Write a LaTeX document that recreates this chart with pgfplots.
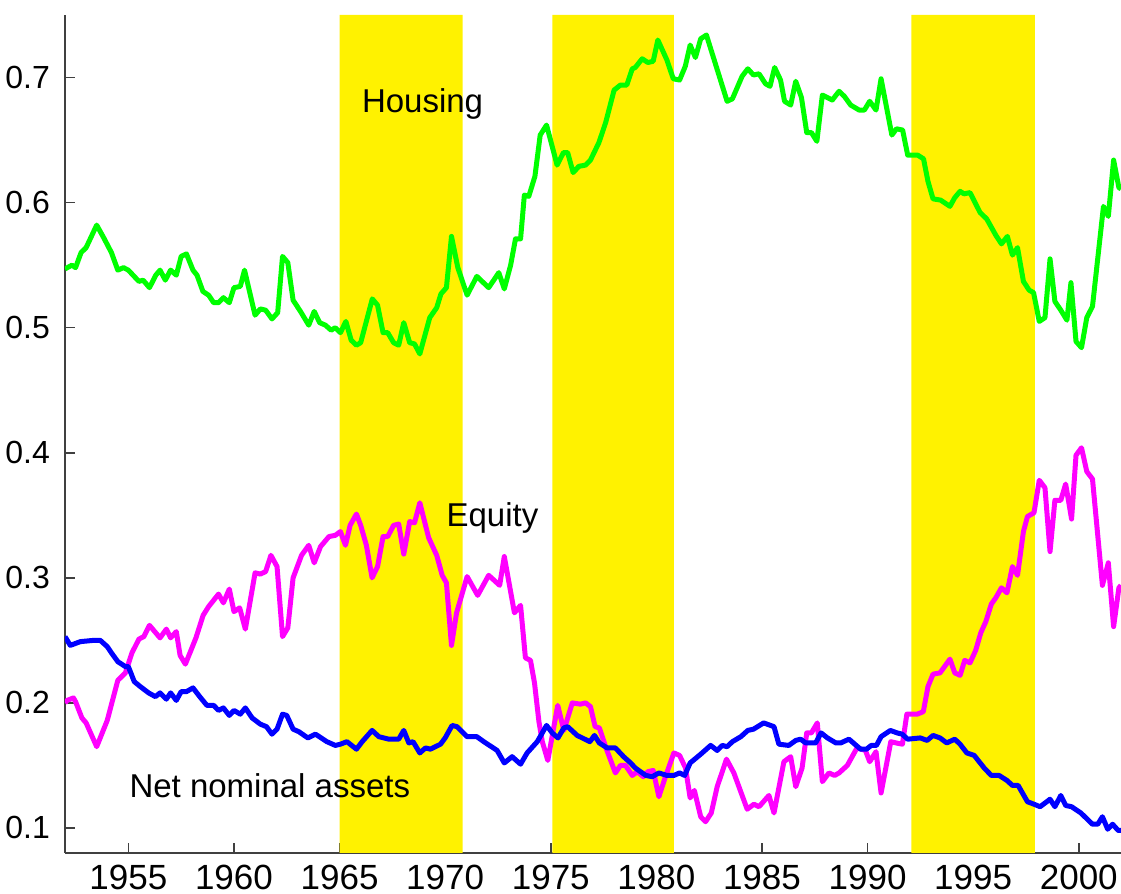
\documentclass[border=0pt]{standalone}
\usepackage{pgfplots}
\pgfplotsset{compat=1.18}
\usepackage{fontspec}
\setmainfont{Liberation Sans}
\begin{document}
\begin{tikzpicture}
\begin{axis}[
  name=ax,
  width=528pt, height=419pt, scale only axis,
  xmin=1952, xmax=2002, ymin=0.08, ymax=0.75,
  axis x line*=bottom, axis y line*=left,
  axis line style={black!75, line width=0.8pt, -},
  tick style={black!75, line width=0.8pt},
  tick align=inside, major tick length=5pt,
  xtick={1955,1960,...,2000},
  ytick={0.1,0.2,...,0.75},
  /pgf/number format/assume math mode=true,
  xticklabel style={/pgf/number format/1000 sep={}, font=\fontsize{17.5}{19}\selectfont, yshift=-2.5pt},
  yticklabel style={/pgf/number format/fixed, /pgf/number format/precision=1, /pgf/number format/fixed zerofill, font=\fontsize{16}{18}\selectfont, xshift=-4pt},
  clip=true,
]
% shaded periods
\addplot[fill=yellow, draw=none, const plot] coordinates {(1965,0.75) (1970.83,0.75)} \closedcycle;
\addplot[fill=yellow, draw=none, const plot] coordinates {(1975.08,0.75) (1980.83,0.75)} \closedcycle;
\addplot[fill=yellow, draw=none, const plot] coordinates {(1992.08,0.75) (1997.92,0.75)} \closedcycle;

% Housing
\addplot[color={rgb,255:red,0;green,255;blue,0}, line width=2.5pt, line join=round] coordinates {
(1952.0,0.547)(1952.33,0.550)(1952.5,0.548)(1952.76,0.560)(1953.0,0.564)(1953.5,0.582)(1953.83,0.572)(1954.2,0.560)(1954.5,0.546)(1954.77,0.548)
(1955.0,0.546)(1955.5,0.537)(1955.7,0.538)(1956.0,0.532)(1956.3,0.542)(1956.5,0.546)(1956.75,0.538)(1957.0,0.546)(1957.27,0.542)(1957.5,0.557)
(1957.75,0.559)(1958.06,0.546)(1958.25,0.542)(1958.53,0.529)(1958.8,0.526)(1959.04,0.520)(1959.27,0.520)(1959.5,0.524)(1959.78,0.520)(1960.0,0.532)
(1960.3,0.533)(1960.5,0.546)(1961.0,0.510)(1961.25,0.515)(1961.5,0.514)(1961.8,0.507)(1962.07,0.512)(1962.3,0.557)(1962.55,0.552)(1962.8,0.522)
(1963.15,0.513)(1963.54,0.502)(1963.8,0.513)(1964.06,0.504)(1964.33,0.502)(1964.6,0.498)(1964.8,0.500)(1965.04,0.496)(1965.3,0.505)(1965.55,0.490)
(1965.8,0.486)(1966.0,0.488)(1966.55,0.523)(1966.8,0.518)(1967.06,0.496)(1967.28,0.496)(1967.56,0.488)(1967.8,0.486)(1968.04,0.504)(1968.32,0.488)
(1968.55,0.487)(1968.8,0.479)(1969.27,0.508)(1969.6,0.516)(1969.8,0.527)(1970.06,0.532)(1970.3,0.573)(1970.6,0.548)(1971.04,0.526)(1971.5,0.541)
(1972.06,0.532)(1972.54,0.544)(1972.8,0.531)(1973.1,0.550)(1973.33,0.571)(1973.57,0.571)(1973.75,0.606)(1973.96,0.605)(1974.25,0.621)(1974.5,0.654)
(1974.8,0.662)(1975.02,0.648)(1975.3,0.630)(1975.6,0.640)(1975.8,0.640)(1976.06,0.624)(1976.33,0.629)(1976.65,0.630)(1976.88,0.634)(1977.28,0.648)
(1977.6,0.664)(1978.0,0.690)(1978.3,0.694)(1978.6,0.694)(1978.86,0.707)(1979.0,0.708)(1979.33,0.715)(1979.6,0.712)(1979.85,0.713)(1980.07,0.730)
(1980.5,0.714)(1980.8,0.699)(1981.1,0.698)(1981.37,0.709)(1981.6,0.726)(1981.85,0.716)(1982.1,0.731)(1982.37,0.734)(1983.35,0.681)(1983.6,0.683)
(1984.06,0.701)(1984.33,0.707)(1984.6,0.702)(1984.86,0.703)(1985.17,0.695)(1985.38,0.693)(1985.6,0.708)(1985.88,0.698)(1986.07,0.681)(1986.36,0.678)
(1986.6,0.697)(1986.87,0.684)(1987.12,0.656)(1987.34,0.656)(1987.6,0.649)(1987.86,0.686)(1988.33,0.682)(1988.65,0.689)(1988.9,0.685)(1989.2,0.678)
(1989.6,0.674)(1989.85,0.674)(1990.1,0.681)(1990.4,0.674)(1990.64,0.699)(1991.15,0.654)(1991.37,0.659)(1991.66,0.658)(1991.9,0.638)(1992.37,0.638)
(1992.65,0.635)(1992.86,0.617)(1993.1,0.603)(1993.46,0.602)(1993.9,0.597)(1994.13,0.604)(1994.38,0.609)(1994.57,0.607)(1994.85,0.608)(1995.33,0.592)
(1995.64,0.587)(1996.07,0.574)(1996.34,0.567)(1996.62,0.573)(1996.86,0.558)(1997.1,0.564)(1997.38,0.537)(1997.65,0.530)(1997.86,0.528)(1998.13,0.505)
(1998.4,0.508)(1998.64,0.555)(1998.87,0.521)(1999.15,0.514)(1999.44,0.506)(1999.63,0.536)(1999.87,0.489)(2000.13,0.484)(2000.38,0.508)(2000.65,0.517)
(2001.17,0.597)(2001.4,0.589)(2001.65,0.634)(2001.9,0.612)(2002.0,0.611)
};

% Equity
\addplot[color={rgb,255:red,255;green,0;blue,255}, line width=2.5pt, line join=round] coordinates {
(1952.0,0.200)(1952.1,0.202)(1952.4,0.204)(1952.5,0.201)(1952.8,0.188)(1953.0,0.184)(1953.5,0.165)(1954.0,0.186)(1954.5,0.218)(1954.86,0.224)
(1955.17,0.240)(1955.5,0.251)(1955.73,0.253)(1956.0,0.262)(1956.5,0.252)(1956.8,0.259)(1957.0,0.252)(1957.27,0.257)(1957.45,0.238)(1957.7,0.231)
(1958.2,0.252)(1958.54,0.270)(1958.8,0.277)(1959.27,0.287)(1959.5,0.280)(1959.78,0.291)(1960.0,0.273)(1960.27,0.276)(1960.54,0.259)(1961.0,0.304)
(1961.25,0.303)(1961.5,0.305)(1961.75,0.318)(1962.04,0.309)(1962.3,0.253)(1962.55,0.260)(1962.8,0.300)(1963.2,0.318)(1963.54,0.326)(1963.8,0.312)
(1964.1,0.325)(1964.5,0.333)(1964.8,0.334)(1965.04,0.337)(1965.28,0.326)(1965.5,0.342)(1965.8,0.351)(1966.0,0.342)(1966.27,0.326)(1966.54,0.300)
(1966.8,0.309)(1967.06,0.333)(1967.28,0.333)(1967.56,0.342)(1967.8,0.343)(1968.04,0.319)(1968.32,0.345)(1968.55,0.344)(1968.8,0.360)(1969.22,0.332)
(1969.6,0.318)(1969.86,0.302)(1970.06,0.296)(1970.3,0.246)(1970.54,0.272)(1971.04,0.301)(1971.54,0.286)(1972.06,0.302)(1972.58,0.294)(1972.8,0.317)
(1973.28,0.272)(1973.57,0.278)(1973.8,0.236)(1974.04,0.234)(1974.23,0.216)(1974.44,0.185)(1974.6,0.169)(1974.86,0.154)(1975.33,0.198)(1975.62,0.178)
(1976.02,0.200)(1976.4,0.199)(1976.65,0.200)(1976.88,0.197)(1977.1,0.181)(1977.3,0.180)(1977.66,0.162)(1978.06,0.144)(1978.3,0.150)(1978.54,0.150)
(1978.86,0.142)(1979.1,0.145)(1979.38,0.141)(1979.6,0.145)(1979.85,0.146)(1980.12,0.125)(1980.43,0.141)(1980.83,0.160)(1981.1,0.158)(1981.38,0.148)
(1981.6,0.124)(1981.8,0.130)(1982.1,0.109)(1982.33,0.105)(1982.6,0.112)(1982.88,0.133)(1983.32,0.155)(1983.67,0.144)(1984.3,0.115)(1984.62,0.119)
(1984.86,0.117)(1985.33,0.126)(1985.57,0.112)(1986.04,0.153)(1986.36,0.157)(1986.6,0.133)(1986.9,0.148)(1987.12,0.176)(1987.34,0.176)(1987.62,0.184)
(1987.86,0.137)(1988.17,0.144)(1988.44,0.142)(1988.65,0.144)(1989.04,0.150)(1989.5,0.164)(1989.9,0.162)(1990.1,0.153)(1990.4,0.161)(1990.64,0.128)
(1991.1,0.169)(1991.35,0.168)(1991.65,0.167)(1991.86,0.191)(1992.35,0.191)(1992.64,0.193)(1992.86,0.213)(1993.1,0.223)(1993.43,0.224)(1993.9,0.235)
(1994.13,0.224)(1994.38,0.222)(1994.6,0.234)(1994.85,0.232)(1995.12,0.242)(1995.36,0.256)(1995.6,0.265)(1995.86,0.279)(1996.07,0.284)(1996.34,0.292)
(1996.6,0.288)(1996.86,0.309)(1997.1,0.302)(1997.38,0.337)(1997.57,0.349)(1997.88,0.352)(1998.13,0.378)(1998.4,0.372)(1998.64,0.321)(1998.87,0.362)
(1999.15,0.362)(1999.38,0.375)(1999.66,0.347)(1999.87,0.398)(2000.13,0.404)(2000.38,0.385)(2000.65,0.379)(2001.12,0.294)(2001.4,0.312)(2001.65,0.261)
(2001.9,0.292)(2002.0,0.294)
};

% Net nominal assets
\addplot[color={rgb,255:red,0;green,0;blue,255}, line width=2.5pt, line join=round] coordinates {
(1952.0,0.253)(1952.25,0.246)(1952.73,0.249)(1953.35,0.250)(1953.67,0.250)(1954.0,0.245)(1954.2,0.240)(1954.5,0.233)(1954.86,0.229)(1955.0,0.229)
(1955.28,0.217)(1955.57,0.213)(1955.96,0.208)(1956.28,0.205)(1956.5,0.208)(1956.8,0.203)(1957.0,0.208)(1957.27,0.202)(1957.5,0.209)(1957.75,0.209)
(1958.06,0.212)(1958.38,0.205)(1958.72,0.198)(1959.04,0.198)(1959.27,0.194)(1959.5,0.196)(1959.78,0.190)(1960.0,0.194)(1960.3,0.191)(1960.54,0.196)
(1960.86,0.188)(1961.25,0.183)(1961.54,0.181)(1961.8,0.175)(1962.04,0.179)(1962.3,0.191)(1962.5,0.190)(1962.8,0.179)(1963.07,0.177)(1963.5,0.172)
(1963.86,0.175)(1964.4,0.169)(1964.8,0.166)(1965.04,0.167)(1965.35,0.169)(1965.8,0.163)(1966.07,0.169)(1966.54,0.178)(1966.86,0.173)(1967.33,0.171)
(1967.8,0.171)(1968.04,0.178)(1968.28,0.168)(1968.48,0.169)(1968.8,0.160)(1969.07,0.164)(1969.3,0.163)(1969.78,0.167)(1970.0,0.172)(1970.33,0.182)
(1970.56,0.181)(1971.04,0.173)(1971.5,0.173)(1971.83,0.169)(1972.46,0.162)(1972.8,0.152)(1973.17,0.157)(1973.57,0.151)(1973.88,0.160)(1974.36,0.169)
(1974.8,0.182)(1975.07,0.176)(1975.34,0.172)(1975.62,0.180)(1975.8,0.181)(1976.25,0.174)(1976.85,0.169)(1977.07,0.174)(1977.3,0.168)(1977.67,0.164)
(1978.06,0.164)(1978.45,0.157)(1978.78,0.152)(1979.0,0.148)(1979.5,0.142)(1979.8,0.141)(1980.12,0.144)(1980.5,0.142)(1980.83,0.142)(1981.1,0.144)
(1981.34,0.142)(1981.6,0.152)(1982.1,0.159)(1982.57,0.166)(1982.88,0.162)(1983.12,0.166)(1983.35,0.165)(1983.6,0.169)(1984.0,0.173)(1984.33,0.178)
(1984.6,0.179)(1985.08,0.184)(1985.57,0.181)(1985.8,0.167)(1986.27,0.166)(1986.6,0.170)(1986.83,0.171)(1987.07,0.168)(1987.54,0.168)(1987.8,0.176)
(1988.1,0.172)(1988.5,0.168)(1988.73,0.168)(1989.12,0.171)(1989.67,0.163)(1989.95,0.163)(1990.17,0.166)(1990.42,0.166)(1990.64,0.173)(1991.08,0.178)
(1991.4,0.176)(1991.64,0.175)(1991.9,0.171)(1992.5,0.172)(1992.82,0.170)(1993.1,0.174)(1993.43,0.172)(1993.75,0.168)(1994.13,0.171)(1994.38,0.167)
(1994.7,0.160)(1995.05,0.158)(1995.52,0.148)(1995.86,0.142)(1996.23,0.142)(1996.6,0.138)(1996.86,0.134)(1997.13,0.134)(1997.57,0.121)(1997.88,0.119)
(1998.17,0.117)(1998.64,0.123)(1998.87,0.117)(1999.15,0.126)(1999.38,0.118)(1999.66,0.117)(2000.1,0.112)(2000.65,0.103)(2000.9,0.103)(2001.12,0.109)
(2001.37,0.099)(2001.6,0.103)(2001.87,0.098)(2002.0,0.098)
};

\node[font=\fontsize{16.5}{19}\selectfont] at (axis cs:1968.93,0.679) {Housing};
\node[font=\fontsize{16.5}{19}\selectfont] at (axis cs:1972.24,0.348) {Equity};
\node[font=\fontsize{16.5}{19}\selectfont] at (axis cs:1961.7,0.1336) {Net nominal assets};
\end{axis}
\pgfresetboundingbox
\path ([xshift=-32.5pt,yshift=-20.5pt]ax.south west) rectangle ([yshift=7.5pt]ax.north east);
\end{tikzpicture}
\end{document}
